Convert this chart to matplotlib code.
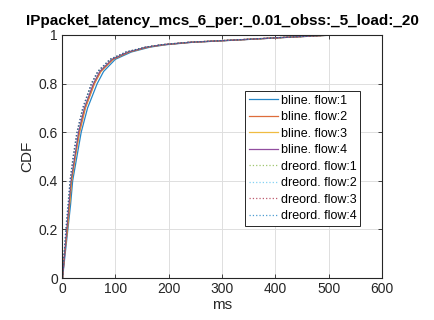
import matplotlib
matplotlib.use('Agg')
import matplotlib.pyplot as plt

plt.rcParams['font.family'] = ['Liberation Sans', 'DejaVu Sans']

# CDF levels shared by every curve
cdf_levels = [0, 0.1, 0.2, 0.3, 0.4, 0.5, 0.6, 0.7, 0.8, 0.85, 0.9, 0.93, 0.95, 0.96, 0.97, 0.98, 0.99, 1.0]

# latency (ms) at each CDF level, per series
bline_flow1 = [1, 6, 11, 16, 20, 28, 36, 48, 66, 78, 100, 130, 165, 195, 245, 335, 420, 510]
bline_flow2 = [1, 5, 10, 14, 18, 25, 33, 44, 61, 73, 96, 126, 161, 191, 242, 332, 418, 508]
bline_flow3 = [1, 5, 10, 14, 18, 25, 32, 43, 60, 72, 95, 125, 160, 190, 240, 330, 416, 506]
bline_flow4 = [1, 5, 9, 13, 17, 24, 31, 42, 59, 71, 94, 124, 159, 189, 240, 330, 415, 505]
dreord_flow1 = [1, 4, 8, 12, 16, 22, 29, 40, 56, 68, 91, 121, 157, 187, 238, 328, 414, 505]
dreord_flow2 = [1, 4, 8, 12, 16, 22, 29, 40, 56, 68, 91, 121, 157, 187, 238, 328, 414, 505]
dreord_flow3 = [1, 4, 8, 12, 15, 21, 28, 39, 55, 67, 90, 120, 156, 186, 237, 327, 413, 504]
dreord_flow4 = [1, 4, 7, 11, 15, 21, 28, 39, 55, 67, 90, 120, 156, 186, 237, 327, 413, 504]

series = [
    ('bline. flow:1', bline_flow1, '#0072BD', '-'),
    ('bline. flow:2', bline_flow2, '#D95319', '-'),
    ('bline. flow:3', bline_flow3, '#EDB120', '-'),
    ('bline. flow:4', bline_flow4, '#7E2F8E', '-'),
    ('dreord. flow:1', dreord_flow1, '#77AC30', ':'),
    ('dreord. flow:2', dreord_flow2, '#4DBEEE', ':'),
    ('dreord. flow:3', dreord_flow3, '#A2142F', ':'),
    ('dreord. flow:4', dreord_flow4, '#0072BD', ':'),
]

fig = plt.figure(figsize=(4.34, 3.2), dpi=100)
ax = fig.add_axes([62 / 434, 42 / 320, 320 / 434, 243 / 320])

for name, lat, col, ls in series:
    ax.plot(lat, cdf_levels, color=col, linestyle=ls, linewidth=0.9,
            alpha=0.85 if ls == '-' else 0.7, label=name)

ax.set_xlim(0, 600)
ax.set_ylim(0, 1)
ax.set_xticks([0, 100, 200, 300, 400, 500, 600])
ax.set_yticks([0, 0.2, 0.4, 0.6, 0.8, 1])
ax.set_yticklabels(['0', '0.2', '0.4', '0.6', '0.8', '1'])
ax.grid(True, color='#dedede', linewidth=0.7)
ax.set_axisbelow(True)
ax.tick_params(direction='in', top=True, right=True, length=3, width=0.6,
               labelsize=10, colors='#262626', pad=3)
for s in ax.spines.values():
    s.set_linewidth(0.8)
    s.set_color('#262626')

ax.set_xlabel('ms', fontsize=11, color='#262626', labelpad=1)
ax.set_ylabel('CDF', fontsize=11, color='#262626', labelpad=3)
ax.set_title('IPpacket_latency_mcs_6_per:_0.01_obss:_5_load:_20',
             fontsize=11, fontweight='bold', pad=7.5)

leg = ax.legend(loc='upper left', bbox_to_anchor=((245 - 62) / 320, (278 - 91) / 243),
                borderaxespad=0, fontsize=9, frameon=True, fancybox=False,
                edgecolor='#262626', framealpha=1, labelspacing=0.36,
                handlelength=2.3, handletextpad=0.25, borderpad=0.3)
leg.get_frame().set_linewidth(0.7)

fig.savefig('out.png', dpi=100)
